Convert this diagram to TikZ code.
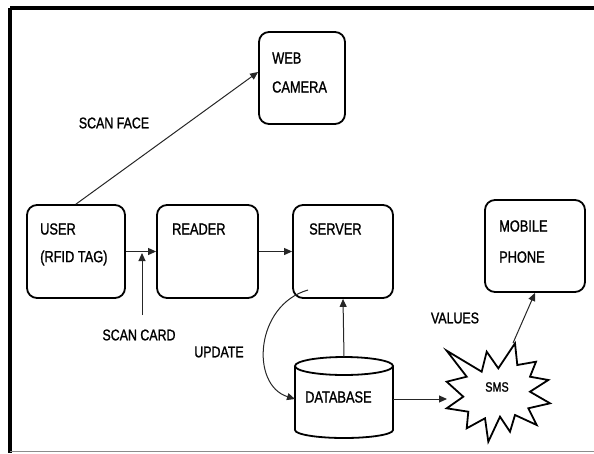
\documentclass[tikz,border=0pt]{standalone}
\usepackage{fontspec}
\setmainfont[FakeStretch=0.8, FakeBold=1.2]{Liberation Sans}
\usetikzlibrary{arrows.meta}
\begin{document}
\begin{tikzpicture}[x=1pt,y=-1pt,
  box/.style={draw=black, line width=1.8pt, rounded corners=10pt, inner sep=0pt},
  txt/.style={font=\fontsize{16}{17}\selectfont, inner sep=0pt, anchor=west},
  lbl/.style={font=\fontsize{15.5}{17}\selectfont, inner sep=0pt},
  conn/.style={draw=black!85, line width=1pt, -{Triangle[length=8pt,width=7pt]}}
]
\useasboundingbox (0,0) rectangle (594,453);
% outer frame: top and left edges heavy, bottom edge thin grey
\draw[line width=3.5pt] (10,8) -- (594,8);
\draw[line width=3.5pt] (10,8) -- (10,453);
\draw[black!45, line width=1pt] (10,451.5) -- (594,451.5);

% boxes
\node[box, minimum width=86pt, minimum height=92pt] (web) at (302,78) {};
\node[box, minimum width=98pt, minimum height=93pt] (user) at (76,251.5) {};
\node[box, minimum width=101pt, minimum height=93pt] (reader) at (207.5,251.5) {};
\node[box, minimum width=100pt, minimum height=93pt] (server) at (343,251.5) {};
\node[box, minimum width=100pt, minimum height=92pt] (mobile) at (535,246) {};

% box captions
\node[txt] (web-a) at (272,58) {WEB};
\node[txt] (web-b) at (272,87) {CAMERA};
\node[txt] (user-a) at (40,229) {USER};
\node[txt] (user-b) at (40,258) {(RFID TAG)};
\node[txt] (reader-a) at (172,229) {READER};
\node[txt] (server-a) at (309,229) {SERVER};
\node[txt] (mobile-a) at (499,226) {MOBILE};
\node[txt] (mobile-b) at (499,257) {PHONE};

% database cylinder
\node[minimum width=98pt, minimum height=72pt, inner sep=0pt] (db) at (344,398) {};
\draw[line width=1.8pt] (295,366) -- (295,430) arc[start angle=180, end angle=360, x radius=49pt, y radius=8pt] -- (393,366);
\draw[line width=1.8pt] (344,366) ellipse[x radius=49pt, y radius=9pt];
\node[txt] (db-a) at (305,397) {DATABASE};

% SMS burst
\draw[line width=1.8pt, fill=white] (446.7,350.7) -- (481.7,371.7) -- (486.7,351.7) -- (498.3,368.3)
  -- (515,343.3) -- (517.3,365) -- (536,361.7) -- (530,376.7) -- (548.3,380) -- (530,391.7)
  -- (550,403.3) -- (528.3,408.3) -- (536.7,425) -- (515,415) -- (510,431.7) -- (500,416.7)
  -- (488.3,441.7) -- (485,418.3) -- (466.7,428.3) -- (468.3,411.7) -- (446.7,408.3)
  -- (463.3,396.7) -- (446.7,381.7) -- (466.7,376.7) -- cycle;
\node[font=\fontsize{13.5}{14}\selectfont, inner sep=0pt] (sms) at (497,387) {SMS};
\coordinate (sms-w) at (447,399);
\coordinate (sms-n) at (513,343);

% connectors
\draw[conn] (user.north) -- (web.west |- 0,72);
\draw[conn] (user.east) -- (reader.west);
\draw[conn] (reader.east) -- (server.west);
\coordinate (card) at (142,315);
\draw[conn] (card) -- (142,253);
\draw[conn] (db.north |- 0,357) -- (server.south);
\draw[conn] (308,290) .. controls (255,305) and (250,385) .. (295,399);
\draw[conn] (393,399) -- (sms-w);
\draw[conn] (sms-n) -- (mobile.south);

% labels
\node[lbl] (l-face) at (114,123) {SCAN FACE};
\node[lbl] (l-card) at (139,335) {SCAN CARD};
\node[lbl] (l-upd) at (219,352) {UPDATE};
\node[lbl] (l-val) at (455,318) {VALUES};
\end{tikzpicture}
\end{document}
